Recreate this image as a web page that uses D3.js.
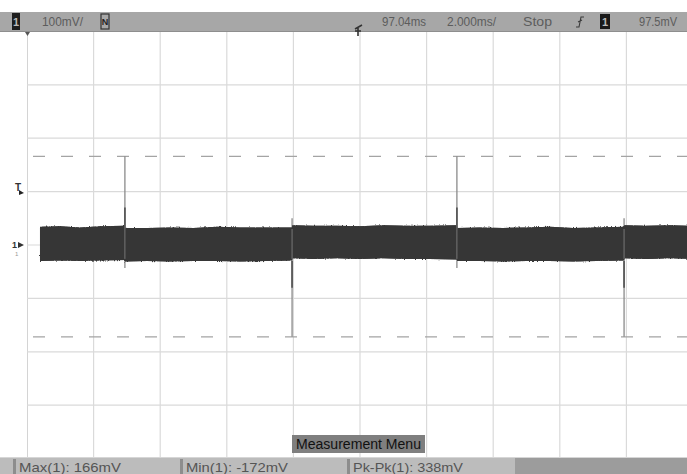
<!DOCTYPE html>
<html><head><meta charset="utf-8">
<script src="https://cdn.jsdelivr.net/npm/d3@7"></script>
<style>
html,body{margin:0;padding:0;background:#fff;}
svg{display:block;}
text{font-family:"Liberation Sans Narrow","Arial Narrow","Liberation Sans",sans-serif;}
</style></head><body>
<script>
// ---- data ----
const timeTicksMs = [0,2,4,6,8,10,12,14,16,18,20];          // 2.000 ms/div
const voltTicksMv = [-400,-300,-200,-100,0,100,200,300,400]; // 100 mV/div
const cursorLevelsMv = [166, -172];                            // Max / Min cursors
const triggerLevelMv = 97.5;

// noise band envelope (time ms, top mV, bottom mV)
const bandTimeMs  = [0.39,1.0,1.6,2.2,2.94,2.95,3.6,4.3,5.0,5.7,6.4,7.2,7.96,7.97,8.6,9.3,10.0,10.7,11.4,12.1,12.91,12.92,13.6,14.3,15.0,15.7,16.4,17.1,17.93,17.94,18.6,19.3,20.0];
const bandTopMv   = [34,35,33,35,36,32,32,33,32,34,33,33,33,37,36,36,35,37,36,36,37,32,33,32,33,34,32,33,34,37,36,37,36];
const bandBotMv   = [-30,-29,-30,-29,-28,-31,-30,-31,-30,-30,-31,-30,-29,-25,-26,-25,-26,-25,-26,-26,-27,-30,-30,-31,-30,-30,-31,-30,-29,-25,-26,-25,-26];

// spikes
const spikeTimeMs = [2.94, 7.96, 12.91, 17.93];
const spikeMaxMv  = [166, 50, 166, 50];
const spikeMinMv  = [-43, -172, -43, -172];

const topLabels = [
  {t:"100mV/", x:42, w:41},
  {t:"97.04ms", x:382, w:44},
  {t:"2.000ms/", x:447, w:49},
  {t:"Stop", x:523, w:29},
  {t:"97.5mV", x:639, w:38}
];
const measLabels = ["Max(1): 166mV", "Min(1): -172mV", "Pk-Pk(1): 338mV"];

// ---- drawing ----
const W = 687, H = 474;
const svg = d3.select("body").append("svg").attr("width", W).attr("height", H);

const plot = {left:27, right:693, top:31.4, bottom:458.6};
const x = d3.scaleLinear().domain([0,20]).range([plot.left, plot.right]);
const y = d3.scaleLinear().domain([-400,400]).range([plot.bottom, plot.top]);

const defs = svg.append("defs");
defs.append("clipPath").attr("id","clip").append("rect")
  .attr("x",27).attr("y",32).attr("width",W-27).attr("height",425);
const f = defs.append("filter").attr("id","fuzz").attr("x","-2%").attr("y","-20%").attr("width","104%").attr("height","140%");
f.append("feTurbulence").attr("type","fractalNoise").attr("baseFrequency","0.9 0.35").attr("numOctaves",2).attr("seed",3).attr("result","n");
f.append("feDisplacementMap").attr("in","SourceGraphic").attr("in2","n").attr("scale",3.2).attr("xChannelSelector","R").attr("yChannelSelector","G");

const g = svg.append("g").attr("clip-path","url(#clip)");

// grid
g.selectAll(".vg").data(timeTicksMs).join("line")
  .attr("x1",d=>x(d)).attr("x2",d=>x(d)).attr("y1",32).attr("y2",457)
  .attr("stroke",(d,i)=>i===0?"#b8b8b8":"#dadada").attr("stroke-width",1.2);
g.selectAll(".hg").data(voltTicksMv).join("line")
  .attr("x1",27).attr("x2",W).attr("y1",d=>y(d)).attr("y2",d=>y(d))
  .attr("stroke","#dadada").attr("stroke-width",1.2);

// cursor lines
g.selectAll(".cur").data(cursorLevelsMv).join("line")
  .attr("x1",33).attr("x2",W).attr("y1",d=>y(d)).attr("y2",d=>y(d))
  .attr("stroke","#a4a4a4").attr("stroke-width",1.2).attr("stroke-dasharray","12,16");

// spikes (light full extent)
g.selectAll(".sp").data(spikeTimeMs).join("line")
  .attr("x1",d=>x(d)).attr("x2",d=>x(d))
  .attr("y1",(d,i)=>y(spikeMaxMv[i])).attr("y2",(d,i)=>y(spikeMinMv[i]))
  .attr("stroke","#8a8a8a").attr("stroke-width",1.3);

// band
const band = bandTimeMs.map((t,i)=>({t, top:bandTopMv[i], bot:bandBotMv[i]}));
const area = d3.area().x(d=>x(d.t)).y0(d=>y(d.bot)).y1(d=>y(d.top)).curve(d3.curveLinear);
g.append("path").datum(band).attr("d",area).attr("fill","#3b3b3b").attr("filter","url(#fuzz)");
g.append("path").datum(band).attr("d",area).attr("fill","#363636");

// darker spike parts near band
g.selectAll(".spd").data(spikeTimeMs).join("line")
  .attr("x1",d=>x(d)).attr("x2",d=>x(d))
  .attr("y1",(d,i)=>spikeMaxMv[i]>100 ? y(70) : y(-30))
  .attr("y2",(d,i)=>spikeMaxMv[i]>100 ? y(30) : y(-80))
  .attr("stroke","#5a5a5a").attr("stroke-width",1.8);
// lighter trace through band
g.selectAll(".spl").data(spikeTimeMs).join("line")
  .attr("x1",d=>x(d)).attr("x2",d=>x(d))
  .attr("y1",y(30)).attr("y2",y(-26))
  .attr("stroke","#777").attr("stroke-width",1);

// top status bar
svg.append("rect").attr("x",0).attr("y",12).attr("width",W).attr("height",20).attr("fill","#a7a7a7");
svg.append("line").attr("x1",0).attr("x2",W).attr("y1",31.5).attr("y2",31.5).attr("stroke","#8e8e8e");
svg.append("rect").attr("x",12).attr("y",13).attr("width",8).attr("height",17).attr("fill","#1e1e1e");
svg.append("text").attr("x",16).attr("y",26).attr("text-anchor","middle").attr("font-size",11).attr("font-weight","bold").attr("fill","#bbb").text("1");
svg.append("rect").attr("x",101).attr("y",14).attr("width",8).attr("height",15).attr("fill","none").attr("stroke","#333").attr("stroke-width",1.2);
svg.append("text").attr("x",105).attr("y",25).attr("text-anchor","middle").attr("font-size",9).attr("font-weight","bold").attr("fill","#222").text("N");
svg.selectAll(".tl").data(topLabels).join("text")
  .attr("x",d=>d.x).attr("y",26).attr("font-size",12).attr("fill","#5c5c5c")
  .attr("textLength",d=>d.w).attr("lengthAdjust","spacingAndGlyphs").text(d=>d.t);
// trigger edge glyph
svg.append("path").attr("d","M576,27 L579,27 L581,17 L584,17 M578,22 L582,20")
  .attr("fill","none").attr("stroke","#3a3a3a").attr("stroke-width",1.1);
svg.append("rect").attr("x",600).attr("y",14).attr("width",10).attr("height",15).attr("fill","#1a1a1a");
svg.append("text").attr("x",605).attr("y",26).attr("text-anchor","middle").attr("font-size",11).attr("font-weight","bold").attr("fill","#bbb").text("1");
// delay marker
svg.append("path").attr("d","M355,29 L362,25 M358,27 L358,36 M355,31 L361,31")
  .attr("fill","none").attr("stroke","#333").attr("stroke-width",1.6);
svg.append("path").attr("d","M25,32 L30,32 L27.5,36 Z").attr("fill","#555");

// left markers
svg.append("text").attr("x",15).attr("y",y(triggerLevelMv)-2).attr("font-size",10).attr("font-weight","bold").attr("fill","#333").text("T");
svg.append("path").attr("d",`M19,${y(triggerLevelMv)-3} L24,${y(triggerLevelMv)} L19,${y(triggerLevelMv)+2} Z`).attr("fill","#222");
svg.append("text").attr("x",12).attr("y",y(0)+3).attr("font-size",9).attr("font-weight","bold").attr("fill","#333").text("1");
svg.append("path").attr("d",`M18,${y(0)-3} L24,${y(0)} L18,${y(0)+3} Z`).attr("fill","#333");
svg.append("text").attr("x",15).attr("y",y(0)+11).attr("font-size",6).attr("fill","#999").text("1");

// Measurement Menu label
svg.append("rect").attr("x",292).attr("y",435).attr("width",133).attr("height",18).attr("fill","#7f7f7f");
svg.append("text").attr("x",296).attr("y",449).attr("font-size",14).attr("fill","#111")
  .attr("textLength",125).attr("lengthAdjust","spacingAndGlyphs").text("Measurement Menu");

// bottom measurement bar
svg.append("rect").attr("x",0).attr("y",457).attr("width",W).attr("height",17).attr("fill","#bcbcbc");
svg.append("line").attr("x1",0).attr("x2",W).attr("y1",457.5).attr("y2",457.5).attr("stroke","#d6d6d6");
svg.append("rect").attr("x",515).attr("y",458).attr("width",W-515).attr("height",16).attr("fill","#9c9c9c");
const mx = [13,180,347];
const mw = [102,102,110];
svg.selectAll(".tab").data(measLabels).join("rect")
  .attr("x",(d,i)=>mx[i]).attr("y",459).attr("width",3).attr("height",15).attr("fill","#8d8d8d");
svg.selectAll(".ml").data(measLabels).join("text")
  .attr("x",(d,i)=>mx[i]+6).attr("y",472).attr("font-size",13.5).attr("fill","#555")
  .attr("textLength",(d,i)=>mw[i]).attr("lengthAdjust","spacingAndGlyphs").text(d=>d);
</script>
</body></html>
